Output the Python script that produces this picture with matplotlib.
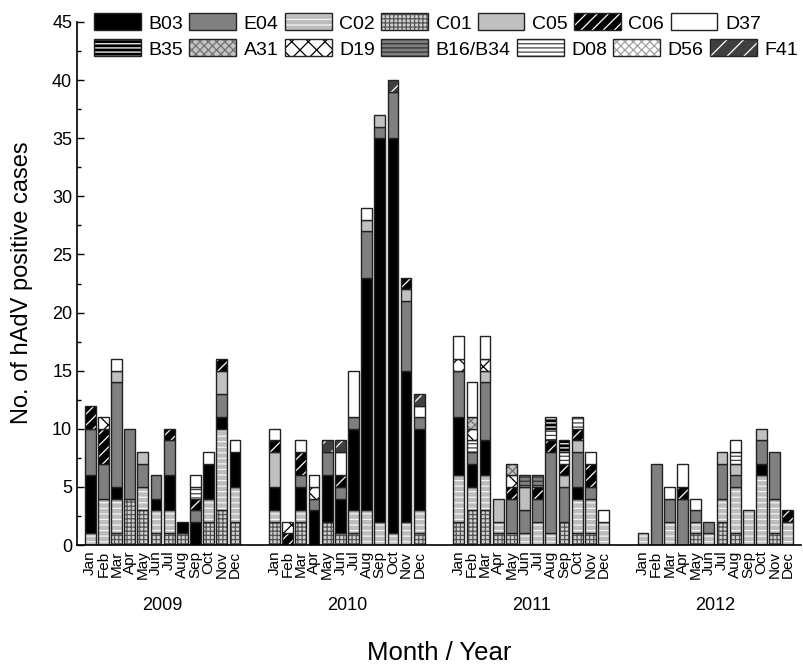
import numpy as np
import matplotlib
matplotlib.use('Agg')
import matplotlib.pyplot as plt
from matplotlib.patches import Rectangle
from matplotlib.legend_handler import HandlerTuple
from matplotlib.ticker import MultipleLocator

plt.rcParams['font.family'] = ['Liberation Sans', 'DejaVu Sans']
plt.rcParams['hatch.linewidth'] = 0.9

months = ['Jan', 'Feb', 'Mar', 'Apr', 'May', 'Jun',
          'Jul', 'Aug', 'Sep', 'Oct', 'Nov', 'Dec']
years = ['2009', '2010', '2011', '2012']

# counts per genotype, 12 months per year (2009, 2010, 2011, 2012)
C01 = ([0, 0, 1, 4, 3, 1, 1, 1, 0, 2, 3, 2] + [2, 0, 2, 0, 2, 1, 1, 0, 0, 0, 0, 1]
       + [2, 3, 3, 1, 1, 0, 0, 0, 2, 1, 1, 0] + [0, 0, 0, 0, 1, 0, 2, 1, 0, 0, 1, 0])
C02 = ([1, 4, 3, 0, 2, 2, 2, 0, 0, 2, 7, 3] + [1, 0, 1, 0, 0, 0, 2, 3, 2, 1, 2, 2]
       + [4, 2, 3, 1, 0, 1, 2, 1, 0, 3, 3, 2] + [1, 0, 2, 0, 1, 1, 2, 4, 3, 6, 3, 2])
B03 = ([5, 0, 1, 0, 0, 1, 3, 1, 2, 3, 1, 3] + [2, 0, 2, 3, 4, 3, 7, 20, 33, 34, 13, 7]
       + [5, 2, 3, 0, 0, 0, 0, 0, 0, 1, 0, 0] + [0, 0, 0, 0, 0, 0, 0, 0, 0, 1, 0, 0])
E04 = ([4, 3, 9, 6, 2, 2, 3, 0, 1, 0, 2, 0] + [0, 0, 1, 1, 2, 1, 1, 4, 1, 4, 6, 1]
       + [4, 1, 5, 0, 3, 2, 2, 7, 3, 3, 1, 0] + [0, 7, 2, 4, 1, 1, 3, 1, 0, 2, 4, 0])
C05 = ([0, 0, 1, 0, 1, 0, 0, 0, 0, 0, 2, 0] + [3, 0, 0, 0, 0, 0, 0, 1, 1, 0, 1, 0]
       + [0, 0, 1, 2, 0, 2, 0, 0, 1, 1, 0, 0] + [0, 0, 0, 0, 0, 0, 1, 1, 0, 1, 0, 0])
C06 = ([2, 3, 0, 0, 0, 0, 1, 0, 1, 0, 1, 0] + [1, 1, 2, 0, 0, 1, 0, 0, 0, 0, 1, 0]
       + [0, 0, 0, 0, 1, 0, 1, 1, 1, 1, 2, 0] + [0, 0, 0, 1, 0, 0, 0, 0, 0, 0, 0, 1])
B16_B34 = ([0] * 12 + [0] * 12
           + [0, 0, 0, 0, 0, 1, 1, 0, 0, 0, 0, 0] + [0] * 12)
D08 = ([0, 0, 0, 0, 0, 0, 0, 0, 1, 0, 0, 0] + [0] * 12
       + [0, 1, 0, 0, 0, 0, 0, 1, 1, 1, 0, 0] + [0, 0, 0, 0, 0, 0, 0, 1, 0, 0, 0, 0])
B35 = ([0] * 12 + [0] * 12
       + [0, 0, 0, 0, 0, 0, 0, 1, 1, 0, 0, 0] + [0] * 12)
D19 = ([0, 1, 0, 0, 0, 0, 0, 0, 0, 0, 0, 0] + [0, 1, 0, 1, 0, 0, 0, 0, 0, 0, 0, 0]
       + [1, 1, 1, 0, 1, 0, 0, 0, 0, 0, 0, 0] + [0] * 12)
A31 = ([0] * 12 + [0] * 12
       + [0, 1, 0, 0, 1, 0, 0, 0, 0, 0, 0, 0] + [0] * 12)
D37 = ([0, 0, 1, 0, 0, 0, 0, 0, 1, 1, 0, 1] + [1, 0, 1, 1, 0, 2, 4, 1, 0, 0, 0, 1]
       + [2, 3, 2, 0, 0, 0, 0, 0, 0, 0, 1, 1] + [0, 0, 1, 2, 1, 0, 0, 1, 0, 0, 0, 0])
F41 = ([0] * 12 + [0, 0, 0, 0, 1, 1, 0, 0, 0, 1, 0, 1]
       + [0] * 12 + [0] * 12)
D56 = [0] * 48

data = {'B03': B03, 'E04': E04, 'C02': C02, 'C01': C01, 'C05': C05, 'C06': C06,
        'D37': D37, 'B35': B35, 'A31': A31, 'D19': D19, 'B16/B34': B16_B34,
        'D08': D08, 'D56': D56, 'F41': F41}

legend_row1 = ['B03', 'E04', 'C02', 'C01', 'C05', 'C06', 'D37']
legend_row2 = ['B35', 'A31', 'D19', 'B16/B34', 'D08', 'D56', 'F41']
stack_order = ['C01', 'C02', 'B03', 'E04', 'C05', 'C06', 'B16/B34', 'D08',
               'B35', 'D19', 'A31', 'D37', 'F41', 'D56']

styles = {
    'B03': ('black', None, None),
    'E04': ('#808080', None, None),
    'C02': ('#bcbcbc', '---', '#f4f4f4'),
    'C01': ('#d0d0d0', '++++', '#555555'),
    'C05': ('#c0c0c0', None, None),
    'C06': ('black', '///', 'white'),
    'D37': ('white', None, None),
    'B35': ('black', '----', 'white'),
    'A31': ('#c4c4c4', 'xxxx', '#707070'),
    'D19': ('white', 'xx', 'black'),
    'B16/B34': ('#808080', '----', '#303030'),
    'D08': ('white', '----', '#404040'),
    'D56': ('white', 'xxxx', '#a0a0a0'),
    'F41': ('#404040', '//', 'white'),
}
EDGE = '#222222'

fig = plt.figure(figsize=(8.04, 6.64), dpi=100)
ax = fig.add_axes([77 / 804, 1 - 545 / 664, (801 - 77) / 804, (545 - 22) / 664])

x = np.array([yi * 14 + m for yi in range(4) for m in range(12)], dtype=float)
bottom = np.zeros(48)
width = 0.82
for g in stack_order:
    vals = np.array(data[g], dtype=float)
    mask = vals > 0
    face, hatch, hc = styles[g]
    if mask.any():
        ax.bar(x[mask], vals[mask], bottom=bottom[mask], width=width,
               color=face, edgecolor=hc if hatch else face, hatch=hatch,
               linewidth=0)
        ax.bar(x[mask], vals[mask], bottom=bottom[mask], width=width,
               fill=False, edgecolor=EDGE, linewidth=1.0)
    bottom += vals

ax.set_xlim(-1, 54)
ax.set_ylim(0, 45)
ax.spines['top'].set_visible(False)
ax.spines['right'].set_visible(False)
ax.spines['left'].set_linewidth(1.2)
ax.spines['bottom'].set_linewidth(1.2)
ax.yaxis.set_major_locator(MultipleLocator(5))
ax.yaxis.set_minor_locator(MultipleLocator(2.5))
ax.tick_params(axis='y', which='both', direction='in', labelsize=13, width=1.0)
ax.tick_params(axis='y', which='major', length=5)
ax.tick_params(axis='y', which='minor', length=3)
ax.set_xticks(x)
ax.set_xticklabels(months * 4, rotation=90, fontsize=11)
ax.tick_params(axis='x', length=0, pad=4)

for yi, yr in enumerate(years):
    ax.text(yi * 14 + 5.5, (545 - 605) / 523, yr, transform=ax.get_xaxis_transform(),
            ha='center', va='center', fontsize=13)

fig.text((77 + 801) / 2 / 804, 1 - 653 / 664, 'Month / Year', ha='center', va='center',
         fontsize=18.5)
fig.text(22 / 804, 1 - 283 / 664, 'No. of hAdV positive cases', rotation=90,
         ha='center', va='center', fontsize=17)


def handle(g):
    face, hatch, hc = styles[g]
    p1 = Rectangle((0, 0), 1, 1, facecolor=face, edgecolor=hc if hatch else face,
                   hatch=hatch, linewidth=0)
    p2 = Rectangle((0, 0), 1, 1, fill=False, edgecolor=EDGE, linewidth=1.0)
    return (p1, p2)


for row, yc in ((legend_row1, 23), (legend_row2, 49)):
    leg = fig.legend([handle(g) for g in row], row, ncol=7, loc='center left',
                     bbox_to_anchor=(94 / 804, 1 - yc / 664),
                     bbox_transform=fig.transFigure, frameon=False, fontsize=14,
                     borderpad=0, borderaxespad=0, handlelength=2.4,
                     handleheight=0.95, handletextpad=0.39, columnspacing=0.33,
                     handler_map={tuple: HandlerTuple(ndivide=1)})

fig.savefig('out.png', dpi=100)
